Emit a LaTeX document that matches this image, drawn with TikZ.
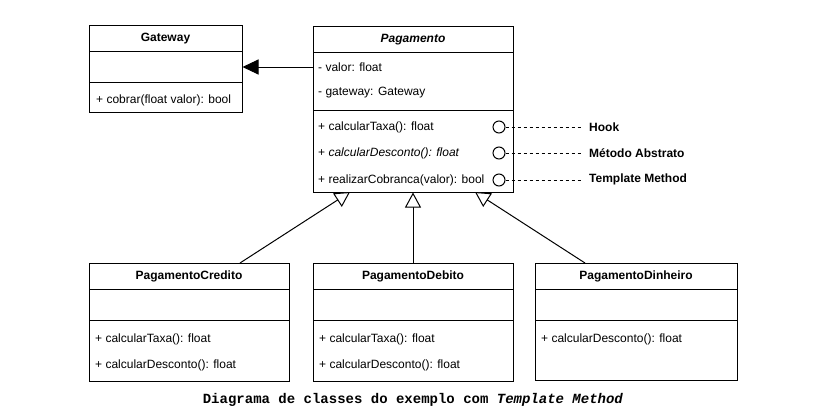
\documentclass[tikz,border=0pt]{standalone}
\usepackage{fontspec}
\setmainfont{Liberation Sans}
\newfontfamily\capfont{Liberation Mono}
\usetikzlibrary{arrows.meta}
\begin{document}
\begin{tikzpicture}[x=1pt,y=-1pt,
  font=\fontsize{12}{14}\selectfont,
  umlbox/.style={draw, line width=1pt, inner sep=0pt, fill=white},
  sep/.style={line width=1pt},
  ttl/.style={font=\fontsize{12}{14}\selectfont\bfseries, inner sep=0pt},
  mem/.style={anchor=west, inner sep=0pt},
  gen/.style={line width=1pt, -{Triangle[open, length=15pt, width=16pt, line width=1pt, fill=white]}},
  assoc/.style={line width=1pt, -{Triangle[length=16pt, width=15pt]}},
  hookdot/.style={circle, draw, line width=1pt, minimum size=12pt, inner sep=0pt, fill=white},
  note/.style={line width=1pt, dash pattern=on 3pt off 3pt},
  lbl/.style={anchor=west, inner sep=0pt, font=\fontsize{12}{14}\selectfont\bfseries}
]
\useasboundingbox (0,0) rectangle (826,418);

% Gateway
\node[umlbox, minimum width=153pt, minimum height=87pt] (gw) at (165.5,68.5) {};
\draw[sep] (89,51) -- (242,51);
\draw[sep] (89,82) -- (242,82);
\node[ttl] (gwT) at (165.5,38.5) {Gateway};
\node[mem] (gwM) at (96,100) {+ cobrar(float valor): bool};

% Pagamento
\node[umlbox, minimum width=200pt, minimum height=166pt] (pg) at (413,109) {};
\draw[sep] (313,52) -- (513,52);
\draw[sep] (313,110) -- (513,110);
\node[ttl, font=\fontsize{12}{14}\selectfont\bfseries\itshape] (pgT) at (413,39.5) {Pagamento};
\node[mem] (pgA1) at (318,67) {- valor: float};
\node[mem] (pgA2) at (318,93) {- gateway: Gateway};
\node[mem] (pgM1) at (318,127) {+ calcularTaxa(): float};
\node[mem] (pgM2) at (318,153) {+ \textit{calcularDesconto(): float}};
\node[mem] (pgM3) at (318,180) {+ realizarCobranca(valor): bool};

% hooks
\node[hookdot] (c1) at (499,127) {};
\node[hookdot] (c2) at (499,153) {};
\node[hookdot] (c3) at (499,180) {};
\node[lbl] (l1) at (589,127) {Hook};
\node[lbl] (l2) at (589,153) {Método Abstrato};
\node[lbl] (l3) at (589,179) {Template Method};
\draw[note] (c1.east) -- ([xshift=-7pt]l1.west);
\draw[note] (c2.east) -- ([xshift=-7pt]l2.west);
\draw[note] (c3.east) -- ([xshift=-7pt]l3.west|-c3.east);

% association
\coordinate (pgL) at (313,67);
\draw[assoc] (pgL) -- (gw.east|-pgL);

% subclasses
\node[umlbox, minimum width=200pt, minimum height=118pt] (cr) at (189,322) {};
\draw[sep] (89,289) -- (289,289);
\draw[sep] (89,320) -- (289,320);
\node[ttl] (crT) at (189,276.5) {PagamentoCredito};
\node[mem] (crM1) at (95,339) {+ calcularTaxa(): float};
\node[mem] (crM2) at (95,365) {+ calcularDesconto(): float};

\node[umlbox, minimum width=200pt, minimum height=118pt] (db) at (413,322) {};
\draw[sep] (313,289) -- (513,289);
\draw[sep] (313,320) -- (513,320);
\node[ttl] (dbT) at (413,276.5) {PagamentoDebito};
\node[mem] (dbM1) at (319,339) {+ calcularTaxa(): float};
\node[mem] (dbM2) at (319,365) {+ calcularDesconto(): float};

\node[umlbox, minimum width=202pt, minimum height=117pt] (dn) at (636,321.5) {};
\draw[sep] (535,289) -- (737,289);
\draw[sep] (535,320) -- (737,320);
\node[ttl] (dnT) at (636,276.5) {PagamentoDinheiro};
\node[mem] (dnM1) at (541,339) {+ calcularDesconto(): float};

% generalizations
\coordinate (crTop) at (240,263);
\coordinate (dnTop) at (585,263);
\coordinate (pgB1) at (350,192);
\coordinate (pgB3) at (475,192);
\draw[gen] (crTop) -- (pgB1);
\draw[gen] (db.north) -- (pg.south);
\draw[gen] (dnTop) -- (pgB3);

% caption
\node[inner sep=0pt, font=\capfont\fontsize{14}{16}\selectfont\bfseries] (cap) at (413,400) {Diagrama de classes do exemplo com \textit{Template Method}};
\end{tikzpicture}
\end{document}
